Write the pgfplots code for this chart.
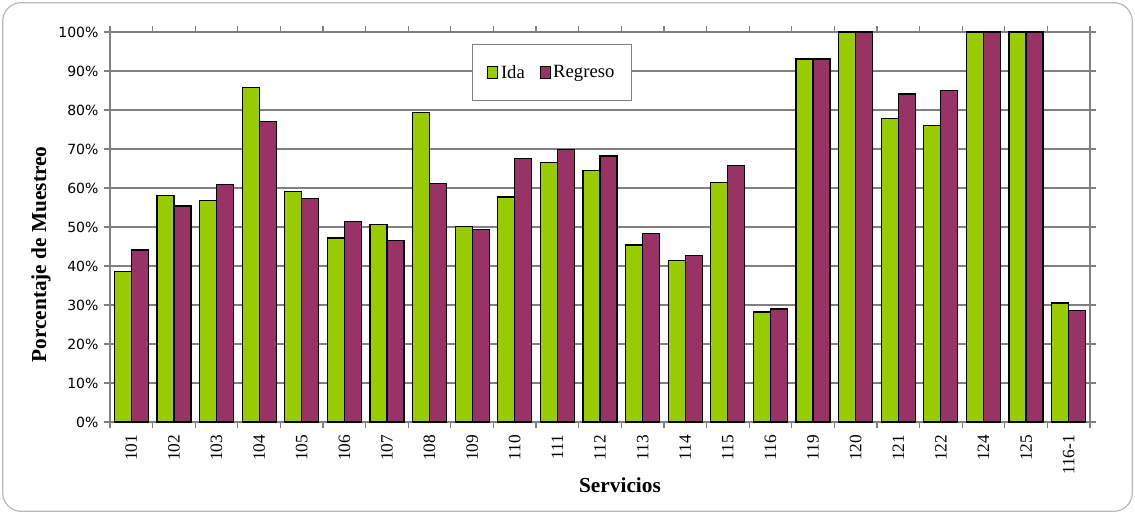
\documentclass[border=0pt]{standalone}
\usepackage{pgfplots}
\pgfplotsset{compat=1.18}
\usepackage{fontspec}
\setmainfont{Liberation Serif}
\newfontfamily\tickfont{DejaVu Sans}
\definecolor{ida}{RGB}{153,204,0}
\definecolor{reg}{RGB}{153,51,102}
\definecolor{gridc}{RGB}{128,128,128}
\begin{document}
\begin{tikzpicture}
\useasboundingbox (-82.5pt,-69pt) rectangle (768.75pt,316.5pt);
\draw[gray!55, line width=0.9pt, rounded corners=14pt] (-80.5pt,-67pt) rectangle (766.75pt,314.5pt);
\begin{axis}[
  at={(0,0)}, anchor=south west, scale only axis,
  width=735pt, height=292.5pt,
  ybar=0pt, bar width=12.75pt,
  xmin=-0.5, xmax=22.5, ymin=0, ymax=100,
  ytick={0,10,...,100},
  yticklabel={\pgfmathprintnumber{\tick}\%},
  /pgf/number format/assume math mode=true,
  ymajorgrids, grid style={gridc, line width=0.9pt},
  axis line style={gridc, line width=0.9pt},
  tick style={gridc, line width=0.9pt},
  tick align=outside, major tick length=4.5pt,
  xtick={-0.5,0.5,...,22.5}, xticklabels={},
  extra x ticks={0,1,...,22},
  extra x tick labels={101,102,103,104,105,106,107,108,109,110,111,112,113,114,115,116,119,120,121,122,124,125,116-1},
  extra x tick style={tick style={draw=none}, tick label style={rotate=90, anchor=east, inner xsep=5pt, font=\fontsize{13}{13}\selectfont}},
  y tick label style={font=\tickfont\fontsize{10.5}{10.5}\selectfont, inner xsep=4pt},
  ylabel={Porcentaje de Muestreo},
  ylabel style={at={(axis description cs:-0.0704,0.4295)}, anchor=center, font=\bfseries\fontsize{16}{16}\selectfont},
  xlabel={Servicios},
  xlabel style={at={(axis description cs:0.5204,-0.163)}, anchor=center, font=\bfseries\fontsize{16}{16}\selectfont},
  legend style={at={(axis description cs:0.3694,0.9692)}, anchor=north west, draw=gridc, line width=0.9pt,
    inner xsep=11pt, inner ysep=13.5pt, font=\fontsize{14}{14}\selectfont, legend columns=2,
    /tikz/every even column/.append style={column sep=9pt}},
  legend image code/.code={\draw[#1, line width=0.8pt] (0pt,-4pt) rectangle (7.5pt,4.5pt);},
]
\addplot[fill=ida, draw=black, line width=0.9pt] coordinates {
(0,38.6) (1,58.0) (2,56.7) (3,85.7) (4,59.0) (5,47.2) (6,50.6) (7,79.3) (8,50.1) (9,57.7) (10,66.5) (11,64.4)
(12,45.4) (13,41.5) (14,61.4) (15,28.2) (16,93.1) (17,100) (18,77.8) (19,76.0) (20,100) (21,100) (22,30.5)};
\addplot[fill=reg, draw=black, line width=0.9pt] coordinates {
(0,44.1) (1,55.4) (2,60.8) (3,77.0) (4,57.4) (5,51.4) (6,46.5) (7,61.1) (8,49.3) (9,67.6) (10,69.9) (11,68.2)
(12,48.3) (13,42.6) (14,65.8) (15,29.0) (16,93.1) (17,100) (18,84.1) (19,85.0) (20,100) (21,100) (22,28.5)};
\legend{Ida,Regreso}
\end{axis}
\end{tikzpicture}
\end{document}
